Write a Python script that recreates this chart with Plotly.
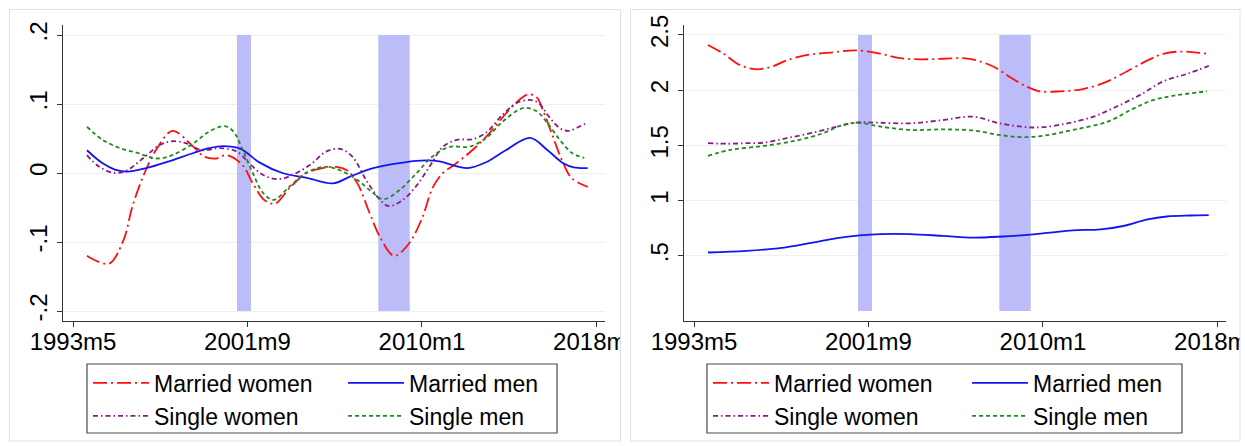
import plotly.graph_objects as go

# ---------------- data (monthly index: months since 1960m1) ----------------
x_tickvals = [400, 500, 600, 700]
x_ticktext = ["1993m5", "2001m9", "2010m1", "2018m5"]

recessions = [(494, 502), (575, 593)]  # 2001m3-2001m11, 2007m12-2009m6

# Left panel (deviations)
L_mw_x = [408, 414, 421, 429, 434, 441, 448, 457, 469, 475, 482, 488, 497, 503, 510, 516, 524, 534, 543, 551, 557, 563, 570, 576, 584, 592, 600, 606, 612, 618, 627, 637, 646, 654, 661, 666, 669, 675, 681, 686, 695]
L_mw_y = [-0.120, -0.128, -0.131, -0.097, -0.049, 0.0, 0.035, 0.061, 0.038, 0.024, 0.021, 0.026, 0.012, -0.015, -0.040, -0.044, -0.022, 0.0, 0.007, 0.009, 0.004, -0.015, -0.058, -0.093, -0.120, -0.104, -0.066, -0.022, 0.0, 0.011, 0.029, 0.053, 0.080, 0.102, 0.114, 0.109, 0.093, 0.053, 0.014, -0.008, -0.020]

L_mm_x = [408, 417, 424, 431, 442, 454, 469, 478, 486, 496, 507, 520, 534, 549, 559, 572, 586, 599, 610, 618, 626, 637, 648, 662, 672, 681, 687, 695]
L_mm_y = [0.033, 0.014, 0.005, 0.002, 0.007, 0.016, 0.029, 0.036, 0.039, 0.035, 0.015, 0.0, -0.007, -0.015, -0.005, 0.007, 0.014, 0.018, 0.017, 0.011, 0.007, 0.016, 0.033, 0.051, 0.033, 0.014, 0.008, 0.007]

L_sw_x = [408, 415, 424, 431, 440, 450, 457, 465, 474, 484, 494, 501, 509, 518, 528, 537, 545, 553, 560, 568, 576, 581, 589, 597, 605, 612, 620, 629, 637, 646, 654, 662, 667, 673, 679, 684, 690, 695]
L_sw_y = [0.026, 0.009, 0.0, 0.004, 0.021, 0.041, 0.046, 0.043, 0.033, 0.036, 0.031, 0.014, -0.003, -0.009, 0.0, 0.014, 0.031, 0.035, 0.024, -0.010, -0.039, -0.048, -0.039, -0.018, 0.012, 0.038, 0.048, 0.049, 0.059, 0.084, 0.101, 0.106, 0.101, 0.081, 0.065, 0.061, 0.067, 0.073]

L_sm_x = [408, 417, 427, 437, 448, 457, 469, 478, 487, 492, 497, 503, 509, 515, 524, 534, 545, 553, 563, 572, 578, 587, 597, 606, 616, 627, 637, 646, 658, 666, 672, 679, 686, 693]
L_sm_y = [0.067, 0.048, 0.036, 0.029, 0.021, 0.026, 0.043, 0.060, 0.068, 0.060, 0.035, 0.0, -0.029, -0.039, -0.020, 0.001, 0.009, 0.004, -0.010, -0.029, -0.038, -0.025, 0.0, 0.024, 0.038, 0.038, 0.051, 0.074, 0.094, 0.089, 0.072, 0.048, 0.029, 0.022]

# Right panel (levels)
R_mw_x = [408, 417, 426, 435, 444, 453, 465, 478, 493, 507, 518, 530, 543, 554, 562, 572, 581, 591, 598, 610, 623, 637, 648, 660, 669, 679, 688, 695]
R_mw_y = [2.41, 2.33, 2.23, 2.19, 2.21, 2.27, 2.32, 2.34, 2.36, 2.33, 2.29, 2.28, 2.285, 2.29, 2.27, 2.21, 2.12, 2.03, 1.99, 1.99, 2.01, 2.08, 2.17, 2.27, 2.33, 2.35, 2.34, 2.33]

R_mm_x = [408, 430, 449, 468, 482, 495, 507, 524, 543, 560, 577, 591, 604, 617, 633, 646, 660, 671, 684, 695]
R_mm_y = [0.53, 0.545, 0.57, 0.62, 0.66, 0.685, 0.697, 0.697, 0.68, 0.665, 0.675, 0.69, 0.71, 0.73, 0.74, 0.77, 0.83, 0.856, 0.865, 0.868]

R_sw_x = [408, 420, 430, 440, 453, 468, 482, 493, 507, 524, 543, 560, 575, 591, 600, 614, 629, 642, 656, 669, 683, 695]
R_sw_y = [1.52, 1.515, 1.52, 1.525, 1.565, 1.615, 1.67, 1.707, 1.705, 1.70, 1.73, 1.76, 1.70, 1.665, 1.665, 1.70, 1.76, 1.85, 1.96, 2.08, 2.15, 2.22]

R_sm_x = [408, 421, 440, 459, 474, 485, 494, 507, 524, 543, 560, 575, 587, 600, 617, 637, 652, 663, 675, 694]
R_sm_y = [1.405, 1.46, 1.495, 1.545, 1.61, 1.685, 1.705, 1.67, 1.64, 1.645, 1.635, 1.595, 1.575, 1.587, 1.64, 1.715, 1.835, 1.91, 1.95, 1.99]

left_ticks = [-0.2, -0.1, 0, 0.1, 0.2]
left_ticktext = ["-.2", "-.1", "0", ".1", ".2"]
right_ticks = [0.5, 1, 1.5, 2, 2.5]
right_ticktext = [".5", "1", "1.5", "2", "2.5"]

# ---------------- styling ----------------
W, H = 1245, 446
FONT = "Liberation Sans, Arial, sans-serif"

def px(x):
    return x / W

def py(y):
    return 1 - y / H

styles = {
    "Married women": dict(color="#FF1010", dash="14px,4px,2px,4px"),
    "Married men": dict(color="#1414F0", dash="solid"),
    "Single women": dict(color="#8A1A8A", dash="5px,3px,1.5px,3px"),
    "Single men": dict(color="#1E8C1E", dash="4px,3px"),
}

fig = go.Figure()

def add(name, xs, ys, xa, ya, legend):
    st = styles[name]
    fig.add_trace(go.Scatter(
        x=xs, y=ys, mode="lines", name=name, xaxis=xa, yaxis=ya, legend=legend,
        line=dict(color=st["color"], dash=st["dash"], width=1.8, shape="spline", smoothing=1.0),
        hoverinfo="skip",
    ))

add("Married women", L_mw_x, L_mw_y, "x", "y", "legend")
add("Married men", L_mm_x, L_mm_y, "x", "y", "legend2")
add("Single women", L_sw_x, L_sw_y, "x", "y", "legend")
add("Single men", L_sm_x, L_sm_y, "x", "y", "legend2")
add("Married women", R_mw_x, R_mw_y, "x2", "y2", "legend3")
add("Married men", R_mm_x, R_mm_y, "x2", "y2", "legend4")
add("Single women", R_sw_x, R_sw_y, "x2", "y2", "legend3")
add("Single men", R_sm_x, R_sm_y, "x2", "y2", "legend4")

shapes = []
band_color = "rgb(188,188,248)"
for (a, b) in recessions:
    shapes.append(dict(type="rect", xref="x", yref="y", x0=a, x1=b, y0=left_ticks[0], y1=left_ticks[-1],
                       fillcolor=band_color, line=dict(width=0), layer="between"))
    shapes.append(dict(type="rect", xref="x2", yref="y2", x0=a, x1=b, y0=0, y1=right_ticks[-1],
                       fillcolor=band_color, line=dict(width=0), layer="between"))

# white clip rectangles (tick label clipping at the panel edges)
shapes.append(dict(type="rect", xref="paper", yref="paper", x0=px(620.5), x1=px(648), y0=py(365), y1=py(322),
                   fillcolor="white", line=dict(width=0), layer="above"))
shapes.append(dict(type="rect", xref="paper", yref="paper", x0=px(1240), x1=px(1246), y0=py(446), y1=py(0),
                   fillcolor="white", line=dict(width=0), layer="above"))
# panel frames
frame = "#DCE4E8"
shapes.append(dict(type="rect", xref="paper", yref="paper", x0=px(9.5), x1=px(620.5), y0=py(441), y1=py(9.5),
                   fillcolor="rgba(0,0,0,0)", line=dict(color=frame, width=1), layer="above"))
shapes.append(dict(type="rect", xref="paper", yref="paper", x0=px(630.5), x1=px(1240), y0=py(441), y1=py(9.5),
                   fillcolor="rgba(0,0,0,0)", line=dict(color=frame, width=1), layer="above"))
# legend boxes
shapes.append(dict(type="rect", xref="paper", yref="paper", x0=px(87), x1=px(557), y0=py(433), y1=py(364),
                   fillcolor="rgba(0,0,0,0)", line=dict(color="#4a4a4a", width=1.2), layer="above"))
shapes.append(dict(type="rect", xref="paper", yref="paper", x0=px(707), x1=px(1182), y0=py(433), y1=py(364),
                   fillcolor="rgba(0,0,0,0)", line=dict(color="#4a4a4a", width=1.2), layer="above"))

axis_common = dict(showline=True, linecolor="#333333", linewidth=1.3, ticks="outside", ticklen=5,
                   tickwidth=1.2, tickcolor="#333333", zeroline=False, automargin=False,
                   ticklabeloverflow="allow",
                   tickfont=dict(family=FONT, size=24, color="black"))
xr = [394.27, 704.9]

legend_common = dict(orientation="v", xanchor="left", yanchor="top", y=py(361.5),
                     font=dict(family=FONT, size=23, color="black"), bgcolor="rgba(0,0,0,0)",
                     borderwidth=0, itemwidth=56, tracegroupgap=0, itemclick=False, itemdoubleclick=False)

fig.update_layout(
    width=W, height=H, margin=dict(l=0, r=0, t=0, b=0, autoexpand=False),
    paper_bgcolor="white", plot_bgcolor="white",
    font=dict(family=FONT, color="black"),
    xaxis=dict(domain=[px(63), px(605)], range=xr, tickvals=x_tickvals, ticktext=x_ticktext,
               showgrid=False, anchor="y", ticklabelstandoff=-6, **axis_common),
    yaxis=dict(domain=[py(321), py(25)], range=[-0.2145, 0.2145], tickvals=left_ticks, ticktext=left_ticktext,
               tickangle=-90, showgrid=True, gridcolor="#EDEFF0", gridwidth=1.2, anchor="x", **axis_common),
    xaxis2=dict(domain=[px(684), px(1226)], range=xr, tickvals=x_tickvals, ticktext=x_ticktext,
                showgrid=False, anchor="y2", ticklabelstandoff=-6, **axis_common),
    yaxis2=dict(domain=[py(321), py(25)], range=[-0.0905, 2.5905], tickvals=right_ticks, ticktext=right_ticktext,
                tickangle=-90, showgrid=True, gridcolor="#EDEFF0", gridwidth=1.2, anchor="x2", **axis_common),
    legend=dict(x=px(88), **legend_common),
    legend2=dict(x=px(343), **legend_common),
    legend3=dict(x=px(708), **legend_common),
    legend4=dict(x=px(967), **legend_common),
    shapes=shapes,
    showlegend=True,
)

fig.write_html("out.html", config={"displayModeBar": False},
               post_script="document.body.style.margin='0';document.body.style.overflow='hidden';")
